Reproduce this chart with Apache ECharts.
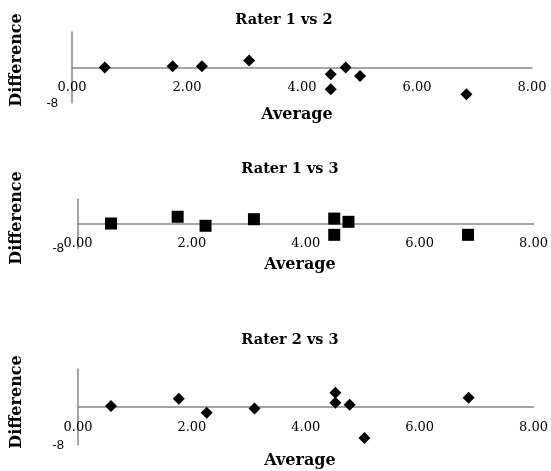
<!DOCTYPE html>
<html>
<head>
<meta charset="utf-8">
<script src="https://cdn.jsdelivr.net/npm/echarts@6/dist/echarts.min.js"></script>
<style>
  html, body { margin: 0; padding: 0; background: #fff; }
  #main { width: 551px; height: 471px; }
</style>
</head>
<body>
<div id="main"></div>
<script>
// Rater 1 vs 2
var avg12 = [0.57, 1.75, 2.26, 3.08, 4.50, 4.50, 4.76, 5.01, 6.86];
var diff12 = [0, 0.3, 0.3, 1.6, -1.5, -4.9, 0, -1.9, -6.0];
// Rater 1 vs 3
var avg13 = [0.58, 1.75, 2.24, 3.09, 4.50, 4.50, 4.75, 6.85];
var diff13 = [0, 2.2, -0.75, 1.4, 1.6, -3.7, 0.55, -3.7];
// Rater 2 vs 3
var avg23 = [0.58, 1.77, 2.26, 3.10, 4.52, 4.52, 4.77, 5.03, 6.86];
var diff23 = [0.2, 1.75, -1.2, -0.3, 3.0, 0.9, 0.5, -6.5, 1.95];

var titles = ['Rater 1 vs 2', 'Rater 1 vs 3', 'Rater 2 vs 3'];
var xTitle = 'Average';
var yTitle = 'Difference';
var xMin = 0, xMax = 8, xStep = 2;
var yMin = -8, yMax = 8, yStep = 8;

var pairs = [[avg12, diff12], [avg13, diff13], [avg23, diff23]];
var symbols = ['diamond', 'rect', 'diamond'];
var symbolSizes = [12, 12, 12];

var grids = [
    {left: 72, right: 19, top: 32, height: 71},
    {left: 78, right: 15, top: 199, height: 49},
    {left: 78, right: 15, top: 369, height: 76}
];
// x tick labels sit between the zero line and the bottom (Excel "low" labels)
var xLabelMargin = [-22, -11, -24];
var titleX = [284, 290, 290];
var titleY = [20, 169, 340];
var avgX = [297, 300, 300];
var avgY = [115, 265, 461];
var diffY = [60, 218, 402];

var serif = '"DejaVu Serif", serif';
var axisGray = '#868686';

var mychart = echarts.init(document.getElementById('main'));

var xAxes = [], yAxes = [], series = [], graphics = [];
for (var i = 0; i < 3; i++) {
    xAxes.push({
        gridIndex: i,
        type: 'value',
        min: xMin,
        max: xMax,
        interval: xStep,
        axisLine: {onZero: true, lineStyle: {color: axisGray, width: 1.5}},
        axisTick: {show: false},
        splitLine: {show: false},
        axisLabel: {
            margin: xLabelMargin[i],
            color: '#000',
            fontFamily: serif,
            fontSize: 13,
            formatter: function (v) { return v.toFixed(2); }
        }
    });
    yAxes.push({
        gridIndex: i,
        type: 'value',
        min: yMin,
        max: yMax,
        interval: yStep,
        axisLine: {show: true, onZero: false, lineStyle: {color: axisGray, width: 1.5}},
        axisTick: {show: false},
        splitLine: {show: false},
        axisLabel: {
            margin: 14,
            color: '#000',
            fontFamily: '"Liberation Sans", sans-serif',
            fontSize: 13,
            formatter: function (v) { return v === yMin ? String(yMin) : ''; }
        }
    });
    var pts = [];
    for (var k = 0; k < pairs[i][0].length; k++) {
        pts.push([pairs[i][0][k], pairs[i][1][k]]);
    }
    series.push({
        type: 'scatter',
        xAxisIndex: i,
        yAxisIndex: i,
        data: pts,
        symbol: symbols[i],
        symbolSize: symbolSizes[i],
        itemStyle: {color: '#000', opacity: 1}
    });
    graphics.push({
        type: 'text', x: titleX[i], y: titleY[i],
        style: {text: titles[i], fill: '#000', font: 'bold 14.5px ' + serif, align: 'center', verticalAlign: 'middle'}
    });
    graphics.push({
        type: 'text', x: avgX[i], y: avgY[i],
        style: {text: xTitle, fill: '#000', font: 'bold 16px ' + serif, align: 'center', verticalAlign: 'middle'}
    });
    graphics.push({
        type: 'text', x: 17, y: diffY[i], rotation: Math.PI / 2,
        style: {text: yTitle, fill: '#000', font: 'bold 16px ' + serif, align: 'center', verticalAlign: 'middle'}
    });
}

var option = {
    animation: false,
    backgroundColor: '#fff',
    grid: grids,
    xAxis: xAxes,
    yAxis: yAxes,
    series: series,
    graphic: graphics
};
mychart.setOption(option);
</script>
</body>
</html>
